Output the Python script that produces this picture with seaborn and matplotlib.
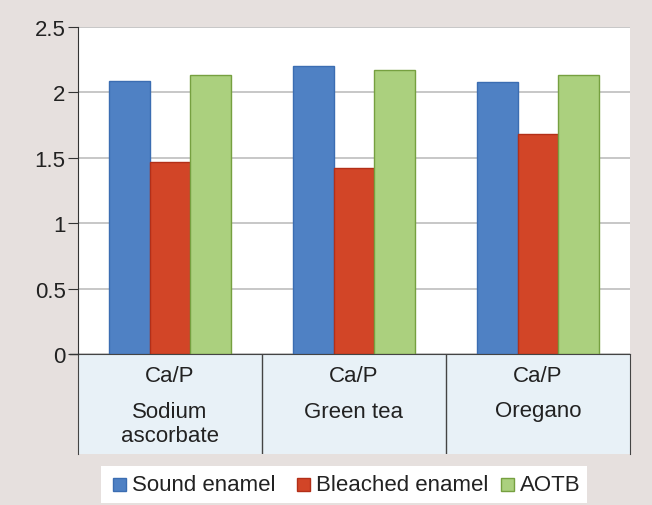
import seaborn as sns
import numpy as np
import pandas as pd
import matplotlib.pyplot as plt
from matplotlib.patches import Rectangle

categories = ['Sodium\nascorbate', 'Green tea', 'Oregano']
series = ['Sound enamel', 'Bleached enamel', 'AOTB']
sound = [2.09, 2.20, 2.08]
bleached = [1.47, 1.42, 1.68]
aotb = [2.13, 2.17, 2.13]
yticks = [0, 0.5, 1, 1.5, 2, 2.5]
ytick_labels = ['0', '0.5', '1', '1.5', '2', '2.5']

df = pd.DataFrame({
    'cat': categories * 3,
    'series': [s for s in series for _ in categories],
    'value': sound + bleached + aotb,
})

fills = ['#4f81c4', '#d24527', '#abd07e']
edges = ['#3b6db2', '#b32f18', '#76a040']

plt.rcParams['font.family'] = ['Liberation Sans', 'DejaVu Sans']
bg = '#e6e0de'
fig = plt.figure(figsize=(6.52, 5.06), dpi=100, facecolor=bg)

W, H = 652, 506
x0, x1, ytop, ybot = 78, 630, 28, 355
ax = fig.add_axes([x0 / W, 1 - ybot / H, (x1 - x0) / W, (ybot - ytop) / H])
sns.barplot(data=df, x='cat', y='value', hue='series', palette=fills,
            width=0.66, gap=0, ax=ax, legend=False, saturation=1)
for cont, ec in zip(ax.containers, edges):
    for b in cont:
        b.set_edgecolor(ec)
        b.set_linewidth(1.0)

ax.set_ylim(0, 2.5)
ax.set_xlim(-0.5, 2.5)
ax.set_yticks(yticks)
ax.set_yticklabels(ytick_labels, fontsize=16, color='#222222')
ax.yaxis.grid(True, color='#bdbdbd', lw=1.2)
ax.set_axisbelow(True)
ax.set_xticks([])
ax.set_xlabel('')
ax.set_ylabel('')
for s in ['top', 'right', 'bottom']:
    ax.spines[s].set_visible(False)
ax.spines['left'].set_color('#333333')
ax.tick_params(axis='y', length=7, color='#333333', pad=2)

# category table under the bars
tb = 455
tax = fig.add_axes([x0 / W, 1 - tb / H, (x1 - x0) / W, (tb - ybot) / H])
tax.set_xlim(-0.5, 2.5)
tax.set_ylim(0, 1)
tax.set_facecolor('#e8f1f7')
tax.set_xticks([])
tax.set_yticks([])
for s in tax.spines.values():
    s.set_color('#444444')
tax.spines['bottom'].set_visible(False)
for xs in [0.5, 1.5]:
    tax.axvline(xs, color='#444444', lw=1)
for i, c in enumerate(categories):
    tax.text(i, 0.78, 'Ca/P', ha='center', va='center', fontsize=16, color='#222222')
    lines = c.split('\n')
    ys = [0.42, 0.19] if len(lines) == 2 else [0.43]
    for ln, yy in zip(lines, ys):
        tax.text(i, yy, ln, ha='center', va='center', fontsize=16, color='#222222')
fig.add_artist(plt.Line2D([70 / W, x0 / W], [1 - ybot / H] * 2, color='#333333', lw=1))

# legend box
lax = fig.add_axes([101 / W, 1 - 504 / H, (587 - 101) / W, (504 - 467) / H])
lax.set_xlim(0, 486)
lax.set_ylim(0, 37)
lax.axis('off')
lax.add_patch(Rectangle((0, 0), 486, 37, facecolor='white', edgecolor='none'))
xpos = [12, 196, 400]
for xp, name, f, e in zip(xpos, series, fills, edges):
    lax.add_patch(Rectangle((xp, 12), 13, 13, facecolor=f, edgecolor=e, lw=1))
    lax.text(xp + 19, 18.5, name, va='center', ha='left', fontsize=16, color='#222222')

fig.savefig('out.png', dpi=100, facecolor=bg)
